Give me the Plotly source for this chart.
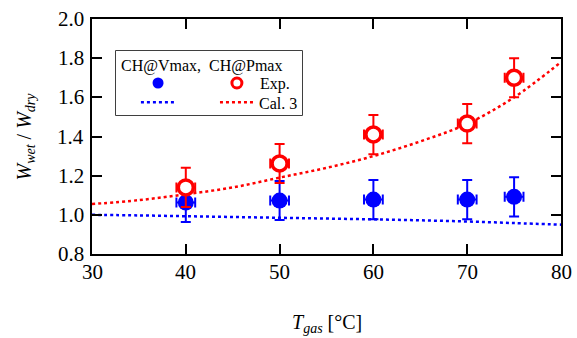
import plotly.graph_objects as go

# ---- data ----
t_exp = [40, 50, 60, 70, 75]
vmax_exp = [1.063, 1.073, 1.078, 1.078, 1.092]
pmax_exp = [1.14, 1.262, 1.41, 1.466, 1.70]
err_y = [0.1, 0.1, 0.1, 0.1, 0.1]
err_x = [1.0, 1.0, 1.0, 1.0, 1.0]

t_cal = [30, 35, 40, 45, 50, 55, 60, 65, 70, 75, 80]
vmax_cal = [1.0, 0.997, 0.993, 0.989, 0.985, 0.981, 0.977, 0.972, 0.966, 0.958, 0.95]
pmax_cal = [1.055, 1.075, 1.105, 1.14, 1.19, 1.24, 1.30, 1.375, 1.465, 1.60, 1.78]

x_ticks = [30, 40, 50, 60, 70, 80]
y_ticks = [0.8, 1.0, 1.2, 1.4, 1.6, 1.8, 2.0]
x_ticklabels = [str(v) for v in x_ticks]
y_ticklabels = [f"{v:.1f}" for v in y_ticks]

FONT = "Liberation Serif"
BLUE = "#0000ff"
RED = "#ff0000"

fig = go.Figure()

fig.add_trace(go.Scatter(x=t_cal, y=vmax_cal, mode="lines", line=dict(color=BLUE, width=2.5, dash="dot"),
                         line_shape="spline", showlegend=False))
fig.add_trace(go.Scatter(x=t_cal, y=pmax_cal, mode="lines", line=dict(color=RED, width=2.5, dash="dot"),
                         line_shape="spline", showlegend=False))

fig.add_trace(go.Scatter(x=t_exp, y=vmax_exp, mode="markers",
                         marker=dict(color=BLUE, size=16, symbol="circle"),
                         error_y=dict(type="data", array=err_y, color=BLUE, thickness=2, width=5),
                         error_x=dict(type="data", array=err_x, color=BLUE, thickness=2, width=5),
                         showlegend=False))
fig.add_trace(go.Scatter(x=t_exp, y=pmax_exp, mode="markers",
                         marker=dict(color="white", size=15, symbol="circle",
                                     line=dict(color=RED, width=3.5)),
                         error_y=dict(type="data", array=err_y, color=RED, thickness=2, width=5),
                         error_x=dict(type="data", array=err_x, color=RED, thickness=2, width=5),
                         showlegend=False))

# ---- custom legend (overlay axes in 0..1 box coordinates) ----
fig.add_trace(go.Scatter(x=[0.226], y=[0.5], mode="markers", xaxis="x2", yaxis="y2",
                         marker=dict(color=BLUE, size=11), showlegend=False, hoverinfo="skip"))
fig.add_trace(go.Scatter(x=[0.65], y=[0.5], mode="markers", xaxis="x2", yaxis="y2",
                         marker=dict(color="white", size=10, line=dict(color=RED, width=3)),
                         showlegend=False, hoverinfo="skip"))
fig.add_trace(go.Scatter(x=[0.134, 0.312], y=[0.2, 0.2], mode="lines", xaxis="x2", yaxis="y2",
                         line=dict(color=BLUE, width=2.5, dash="dot"), showlegend=False, hoverinfo="skip"))
fig.add_trace(go.Scatter(x=[0.559, 0.737], y=[0.2, 0.2], mode="lines", xaxis="x2", yaxis="y2",
                         line=dict(color=RED, width=2.5, dash="dot"), showlegend=False, hoverinfo="skip"))

L, R, T, B = 92, 16, 19, 84
W, H = 577, 338
pw, ph = W - L - R, H - T - B
# legend box in pixels
bx0, bx1, by0, by1 = 116, 302, 51, 115
px = lambda x: (x - L) / pw
py = lambda y: 1 - (y - T) / ph

fig.add_shape(type="rect", xref="paper", yref="paper", x0=px(bx0), x1=px(bx1), y0=py(by1), y1=py(by0),
              line=dict(color="black", width=1.5), fillcolor="white", layer="below")

ann = []
ann.append(dict(text="CH@Vmax,  CH@Pmax", x=px(bx0 + 3), y=py(66), xanchor="left", yanchor="middle"))
ann.append(dict(text="Exp.", x=px(258), y=py(84), xanchor="left", yanchor="middle"))
ann.append(dict(text="Cal. 3", x=px(257), y=py(103), xanchor="left", yanchor="middle"))
for a in ann:
    a.update(xref="paper", yref="paper", showarrow=False, font=dict(family=FONT, size=16, color="black"))
    fig.add_annotation(**a)

# tick labels as serif text
for v, s in zip(x_ticks, x_ticklabels):
    fig.add_annotation(text=s, xref="x", yref="paper", x=v, y=py(272), xanchor="center", yanchor="middle",
                       showarrow=False, font=dict(family=FONT, size=21, color="black"))
for v, s in zip(y_ticks, y_ticklabels):
    fig.add_annotation(text=s, xref="paper", yref="y", x=px(86), y=v, xanchor="right", yanchor="middle",
                       showarrow=False, font=dict(family=FONT, size=21, color="black"))

fig.add_annotation(text="<i>T</i><sub><i>gas</i></sub> [°C]", xref="paper", yref="paper",
                   x=0.5, y=py(323), xanchor="center", yanchor="middle", showarrow=False,
                   font=dict(family=FONT, size=20, color="black"))
fig.add_annotation(text="<i>W</i><sub><i>wet</i></sub> / <i>W</i><sub><i>dry</i></sub>", xref="paper", yref="paper",
                   x=px(25), y=0.5, xanchor="center", yanchor="middle", textangle=-90, showarrow=False,
                   font=dict(family=FONT, size=20, color="black"))

axis_common = dict(showline=True, linecolor="black", linewidth=1.5, mirror="ticks", ticks="inside",
                   ticklen=10, tickwidth=1.5, tickcolor="black", showgrid=False, zeroline=False,
                   showticklabels=False)

fig.update_layout(
    width=W, height=H, margin=dict(l=L, r=R, t=T, b=B),
    font=dict(family=FONT, size=20, color="black"),
    paper_bgcolor="white", plot_bgcolor="white",
    xaxis=dict(range=[30, 80], tickvals=x_ticks, **axis_common),
    yaxis=dict(range=[0.8, 2.0], tickvals=y_ticks, **axis_common),
    xaxis2=dict(domain=[px(bx0), px(bx1)], range=[0, 1], visible=False, anchor="y2"),
    yaxis2=dict(domain=[py(by1), py(by0)], range=[0, 1], visible=False, anchor="x2"),
    showlegend=False,
)

fig.write_html("out.html")
